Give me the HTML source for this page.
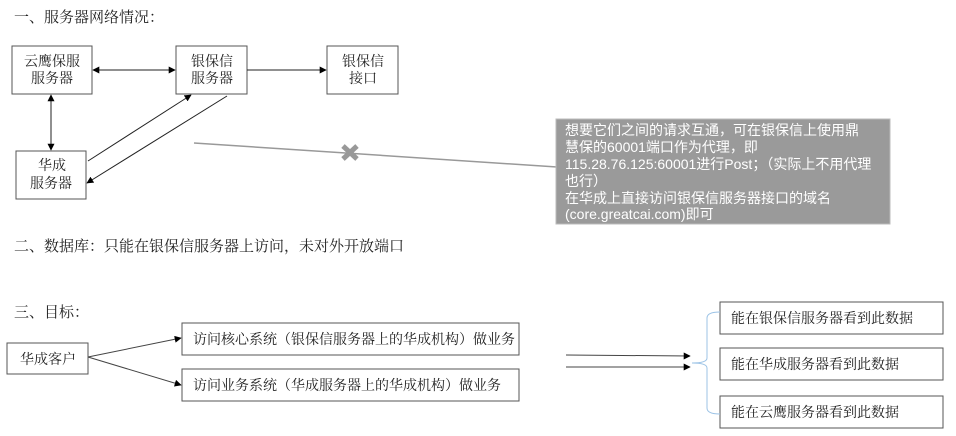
<!DOCTYPE html>
<html><head><meta charset="utf-8"><style>
html,body{margin:0;padding:0;background:#fff}
svg{display:block}
text{font-family:"Liberation Serif","Noto Serif CJK SC",serif;font-size:14px;fill:#222}
.s{font-family:"Liberation Sans","Noto Sans CJK SC",sans-serif;font-size:14px;fill:#fff}
</style></head><body>
<svg width="956" height="436" viewBox="0 0 956 436" xmlns="http://www.w3.org/2000/svg">
<defs><marker id="a" viewBox="0 0 10 10" refX="9" refY="5" markerWidth="7" markerHeight="7" orient="auto-start-reverse"><path d="M0,0L10,5L0,10z" fill="#000"/></marker></defs>
<text x="14" y="22" style="font-size:15px">一、服务器网络情况：</text>
<g fill="#fff" stroke="#555" stroke-width="1">
<rect x="12" y="46" width="80" height="48"/>
<rect x="176" y="46" width="71" height="48"/>
<rect x="327" y="46" width="71" height="48"/>
<rect x="16" y="151" width="70" height="48"/>
</g>
<text x="24" y="66">云鹰保服</text><text x="31" y="83">服务器</text>
<text x="191" y="66">银保信</text><text x="191" y="83">服务器</text>
<text x="342" y="66">银保信</text><text x="349" y="83">接口</text>
<text x="38" y="170">华成</text><text x="30" y="188">服务器</text>
<g stroke="#222" stroke-width="1" fill="none">
<line x1="93" y1="70" x2="175" y2="70" marker-start="url(#a)" marker-end="url(#a)"/>
<line x1="247" y1="70" x2="326" y2="70" marker-end="url(#a)"/>
<line x1="51" y1="95" x2="51" y2="150" marker-start="url(#a)" marker-end="url(#a)"/>
<line x1="88" y1="161" x2="191" y2="95" marker-end="url(#a)"/>
<line x1="227" y1="96" x2="87" y2="183" marker-end="url(#a)"/>
</g>
<line x1="194" y1="143" x2="557" y2="167" stroke="#999" stroke-width="1.5"/>
<g stroke="#999" stroke-width="5"><line x1="343" y1="146" x2="357" y2="159"/><line x1="357" y1="146" x2="343" y2="159"/></g>
<rect x="556" y="119" width="334" height="105" fill="#9a9a9a" stroke="#bbb"/>
<text class="s" x="565" y="135">想要它们之间的请求互通，可在银保信上使用鼎</text>
<text class="s" x="565" y="152">慧保的60001端口作为代理，即</text>
<text class="s" x="565" y="169">115.28.76.125:60001进行Post；（实际上不用代理</text>
<text class="s" x="565" y="186">也行）</text>
<text class="s" x="565" y="203">在华成上直接访问银保信服务器接口的域名</text>
<text class="s" x="565" y="219">(core.greatcai.com)即可</text>
<text x="14" y="251" style="font-size:15px">二、数据库：只能在银保信服务器上访问，未对外开放端口</text>
<text x="14" y="317" style="font-size:15px">三、目标：</text>
<g fill="#fff" stroke="#555">
<rect x="7" y="343" width="81" height="31"/>
<rect x="182" y="323" width="337" height="32"/>
<rect x="182" y="369" width="337" height="32"/>
<rect x="720" y="302" width="223" height="32"/>
<rect x="720" y="348" width="223" height="32"/>
<rect x="720" y="396" width="223" height="32"/>
</g>
<text x="20" y="364">华成客户</text>
<text x="193" y="344">访问核心系统（银保信服务器上的华成机构）做业务</text>
<text x="193" y="390">访问业务系统（华成服务器上的华成机构）做业务</text>
<text x="731" y="323">能在银保信服务器看到此数据</text>
<text x="731" y="369">能在华成服务器看到此数据</text>
<text x="731" y="417">能在云鹰服务器看到此数据</text>
<g stroke="#444" fill="none">
<line x1="88" y1="357" x2="181" y2="338" marker-end="url(#a)"/>
<line x1="88" y1="357" x2="181" y2="385" marker-end="url(#a)"/>
<line x1="566" y1="355" x2="690" y2="356" marker-end="url(#a)"/>
<line x1="566" y1="367" x2="690" y2="367" marker-end="url(#a)"/>
</g>
<path d="M720,312 Q707,312 707,318 L707,358 Q707,363 692,363 Q707,363 707,368 L707,408 Q707,414 720,414" stroke="#9cc3e6" fill="none"/>
</svg>
</body></html>
